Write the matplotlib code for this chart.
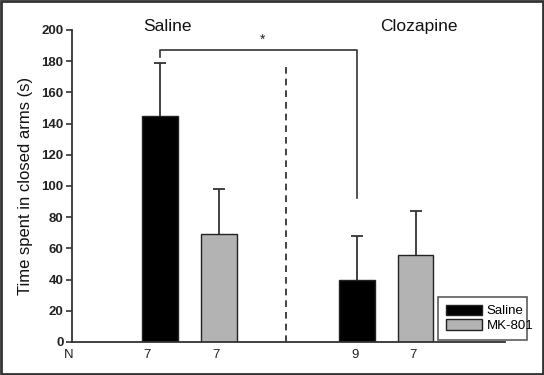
import matplotlib
matplotlib.use("Agg")
import matplotlib.pyplot as plt
from matplotlib.patches import Patch, Rectangle

plt.rcParams['font.family'] = ['Liberation Sans', 'DejaVu Sans']

groups = ["Saline", "Clozapine"]
treatments = ["Saline", "MK-801"]
means = [145, 69, 40, 56]
errors = [34, 29, 28, 28]
n_labels = ["7", "7", "9", "7"]
bar_colors = ["black", "#b3b3b3", "black", "#b3b3b3"]
positions = [1.0, 2.0, 4.31, 5.3]
n_positions = [0.79, 1.94, 4.29, 5.26]
yticks = [0, 20, 40, 60, 80, 100, 120, 140, 160, 180, 200]

fig = plt.figure(figsize=(5.44, 3.75), dpi=100)
ax = fig.add_axes([0.132, 0.088, 0.796, 0.832])

ax.bar(positions, means, width=0.6, color=bar_colors, edgecolor="#222222", linewidth=1.0, zorder=2)
eb = ax.errorbar(positions, means, yerr=[[0]*4, errors], fmt="none", ecolor="#333333",
                 elinewidth=1.3, capsize=4, capthick=1.3, zorder=1)
if len(eb[1]) > 1:
    eb[1][0].set_visible(False)

ax.set_xlim(-0.48, 6.8)
ax.set_ylim(0, 200)
ax.set_yticks(yticks)
ax.set_yticklabels([str(v) for v in yticks], fontsize=9.5, fontweight="bold", color="#222222")
ax.set_xticks([])
for s in ["top", "right"]:
    ax.spines[s].set_visible(False)
for s in ["left", "bottom"]:
    ax.spines[s].set_color("#333333")
    ax.spines[s].set_linewidth(1.3)
ax.tick_params(axis="y", direction="out", length=4, width=1.2, color="#333333", pad=2)
ax.set_ylabel("Time spent in closed arms (s)", fontsize=12, color="#111111", labelpad=6)

# dashed separator
ax.plot([3.12, 3.12], [0, 177], linestyle=(0, (4, 3)), color="#222222", linewidth=1.2, zorder=1)

# significance bracket
ax.plot([1.0, 1.0, 4.31, 4.31], [183, 187, 187, 92], color="#333333", linewidth=1.2, clip_on=False)
ax.text(2.73, 189, "*", ha="center", va="bottom", fontsize=10, color="#222222")

# group titles
ax.text(1.13, 202, groups[0], ha="center", va="center", fontsize=12.5, color="#111111", clip_on=False)
ax.text(5.35, 202, groups[1], ha="center", va="center", fontsize=12.5, color="#111111", clip_on=False)

# N labels
ax.text(-0.53, -8.5, "N", ha="center", va="center", fontsize=9.5, color="#222222", clip_on=False)
for p, n in zip(n_positions, n_labels):
    ax.text(p, -8.5, n, ha="center", va="center", fontsize=9.5, color="#222222", clip_on=False)

handles = [Patch(facecolor="black", edgecolor="#222222", label=treatments[0]),
           Patch(facecolor="#b3b3b3", edgecolor="#222222", label=treatments[1])]
leg = fig.legend(handles=handles, loc="lower left", bbox_to_anchor=(438/544, 35/375, 89/544, 45/375),
                 mode="expand", borderaxespad=0, fontsize=9.5, frameon=True, fancybox=False,
                 handlelength=2.7, handleheight=0.8, borderpad=0.6, labelspacing=0.15,
                 handletextpad=0.4)
leg.get_frame().set_edgecolor("#333333")
leg.get_frame().set_linewidth(1.2)

# figure border
fig.patches.append(Rectangle((0.002, 0.003), 0.996, 0.994, transform=fig.transFigure,
                             fill=False, edgecolor="#333333", linewidth=2))

fig.savefig("out.png", dpi=100)
